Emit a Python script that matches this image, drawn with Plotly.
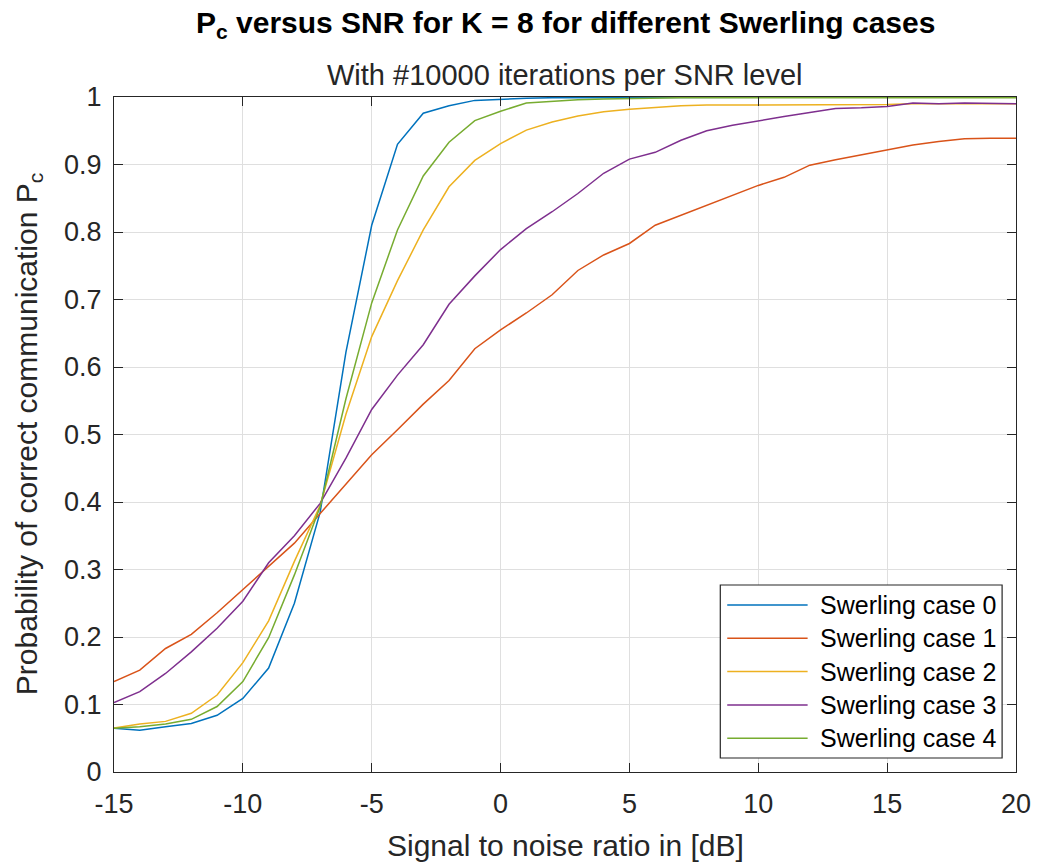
import plotly.graph_objects as go

# SNR grid in dB
snr_db = list(range(-15, 21))

# Probability of correct communication per Swerling case
pc_case0 = [0.065, 0.062, 0.067, 0.072, 0.084, 0.109, 0.154, 0.250, 0.385, 0.622,
            0.810, 0.930, 0.976, 0.987, 0.995, 0.997, 0.998, 0.999, 0.999, 1.000,
            1.000, 1.000, 1.000, 1.000, 1.000, 1.000, 1.000, 1.000, 1.000, 1.000,
            1.000, 1.000, 1.000, 1.000, 1.000, 1.000]
pc_case1 = [0.134, 0.151, 0.183, 0.204, 0.236, 0.270, 0.305, 0.339, 0.383, 0.426,
            0.470, 0.507, 0.545, 0.580, 0.627, 0.655, 0.680, 0.707, 0.743, 0.766,
            0.783, 0.810, 0.825, 0.840, 0.855, 0.869, 0.881, 0.899, 0.907, 0.914,
            0.921, 0.929, 0.934, 0.938, 0.939, 0.939]
pc_case2 = [0.065, 0.071, 0.075, 0.087, 0.114, 0.162, 0.224, 0.312, 0.395, 0.530,
            0.645, 0.728, 0.803, 0.867, 0.906, 0.931, 0.951, 0.963, 0.972, 0.978,
            0.982, 0.985, 0.987, 0.988, 0.988, 0.988, 0.989, 0.988, 0.989, 0.989,
            0.989, 0.990, 0.990, 0.990, 0.990, 0.990]
pc_case3 = [0.103, 0.119, 0.146, 0.178, 0.213, 0.253, 0.310, 0.350, 0.398, 0.465,
            0.537, 0.588, 0.633, 0.693, 0.735, 0.774, 0.805, 0.830, 0.857, 0.887,
            0.908, 0.918, 0.936, 0.950, 0.958, 0.965, 0.971, 0.977, 0.983, 0.984,
            0.986, 0.991, 0.990, 0.991, 0.991, 0.990]
pc_case4 = [0.065, 0.067, 0.071, 0.078, 0.097, 0.134, 0.199, 0.292, 0.393, 0.553,
            0.695, 0.803, 0.883, 0.933, 0.965, 0.979, 0.991, 0.994, 0.996, 0.997,
            0.998, 0.999, 0.999, 0.999, 0.999, 0.999, 0.999, 0.999, 0.999, 0.999,
            0.999, 0.999, 0.999, 0.999, 0.999, 0.999]

case_names = ["Swerling case 0", "Swerling case 1", "Swerling case 2",
              "Swerling case 3", "Swerling case 4"]
case_colors = ["#0072BD", "#D95319", "#EDB120", "#7E2F8E", "#77AC30"]

x_tickvals = [-15, -10, -5, 0, 5, 10, 15, 20]
x_ticktext = ["-15", "-10", "-5", "0", "5", "10", "15", "20"]

W, H = 1043, 865
L, R, T, B = 114, 20, 97, 93
PW, PH = W - L - R, H - T - B
FONT = "Liberation Sans, Arial, Helvetica, sans-serif"
INK = "#262626"


def px_x(x):
    return (x - L) / PW


def px_y(y):
    return (H - B - y) / PH


fig = go.Figure()
series = [pc_case0, pc_case1, pc_case2, pc_case3, pc_case4]
for name, color, vals in zip(case_names, case_colors, series):
    fig.add_trace(go.Scatter(x=snr_db, y=vals, mode="lines", name=name,
                             line=dict(color=color, width=1.5),
                             showlegend=False))

axis_common = dict(
    showline=True, linecolor=INK, linewidth=1.2, mirror="ticks",
    ticks="inside", ticklen=9, tickwidth=1.2, tickcolor=INK,
    showgrid=True, gridcolor="#dfdfdf", gridwidth=1, zeroline=False,
    tickfont=dict(family=FONT, size=27, color=INK),
)

fig.update_xaxes(range=[-15, 20], tickvals=x_tickvals, ticktext=x_ticktext,
                 ticklabelstandoff=7, **axis_common)
fig.update_yaxes(range=[0, 1], dtick=0.1, tick0=0, ticklabelstandoff=6,
                 **axis_common)

annotations = [
    dict(text="<b>P<sub>c</sub> versus SNR for K = 8 for different Swerling cases</b>",
         x=0.5, y=px_y(25), xref="paper", yref="paper", showarrow=False,
         xanchor="center", yanchor="middle",
         font=dict(family=FONT, size=30, color="#000000")),
    dict(text="With #10000 iterations per SNR level",
         x=0.5, y=px_y(75), xref="paper", yref="paper", showarrow=False,
         xanchor="center", yanchor="middle",
         font=dict(family=FONT, size=29, color=INK)),
    dict(text="Signal to noise ratio in [dB]",
         x=0.5, y=px_y(845), xref="paper", yref="paper", showarrow=False,
         xanchor="center", yanchor="middle",
         font=dict(family=FONT, size=30, color=INK)),
    dict(text="Probability of correct communication P<sub>c</sub>",
         x=px_x(28), y=0.5, xref="paper", yref="paper", showarrow=False,
         xanchor="center", yanchor="middle", textangle=-90,
         font=dict(family=FONT, size=30, color=INK)),
]

# Legend box drawn in the lower-right corner of the axes
shapes = [dict(type="rect", xref="paper", yref="paper",
               x0=px_x(725), x1=px_x(1009), y0=px_y(758), y1=px_y(585),
               line=dict(color=INK, width=1.2), fillcolor="white", layer="above")]
row_top, row_step = 605, 33.3
for i, (name, color) in enumerate(zip(case_names, case_colors)):
    yy = px_y(row_top + i * row_step)
    shapes.append(dict(type="line", xref="paper", yref="paper",
                       x0=px_x(732), x1=px_x(813), y0=yy, y1=yy,
                       line=dict(color=color, width=1.5), layer="above"))
    annotations.append(dict(text=name, x=px_x(823), y=yy, xref="paper", yref="paper",
                            showarrow=False, xanchor="left", yanchor="middle",
                            font=dict(family=FONT, size=25, color="#000000")))

fig.update_layout(
    width=W, height=H,
    margin=dict(l=L, r=R, t=T, b=B),
    paper_bgcolor="white", plot_bgcolor="white",
    annotations=annotations, shapes=shapes,
    showlegend=False,
)

fig.write_html("out.html")
